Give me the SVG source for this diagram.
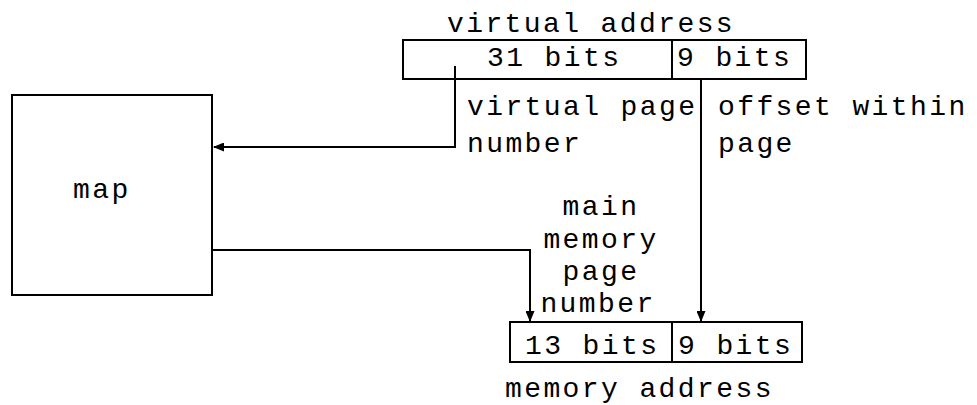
<svg xmlns="http://www.w3.org/2000/svg" width="977" height="405" viewBox="0 0 977 405">
<style>
text{font-family:"Liberation Mono","Courier New",monospace;font-size:28px;letter-spacing:2.4px;fill:#000}
.b{fill:none;stroke:#000;stroke-width:2}
.c{fill:none;stroke:#000;stroke-width:2}
</style>
<defs>
<marker id="ah" markerWidth="11" markerHeight="9" refX="10" refY="4.5" orient="auto" markerUnits="userSpaceOnUse">
<path d="M0,0 L11,4.5 L0,9 Z" fill="#000"/>
</marker>
</defs>
<rect width="977" height="405" fill="#fff"/>
<g id="virtual-address">
<text x="447" y="32">virtual address</text>
<rect class="b" x="403" y="40" width="403" height="39"/>
<line class="b" x1="672" y1="40" x2="672" y2="79"/>
<text x="487" y="66">31 bits</text>
<text x="677" y="66">9 bits</text>
</g>
<g id="map">
<rect class="b" x="12" y="95" width="200" height="200"/>
<text x="73" y="198">map</text>
</g>
<g id="memory-address">
<rect class="b" x="510" y="322" width="292" height="40"/>
<line class="b" x1="672" y1="322" x2="672" y2="362"/>
<text x="525" y="354">13 bits</text>
<text x="678" y="354">9 bits</text>
<text x="505" y="397">memory address</text>
</g>
<g id="labels">
<text x="467" y="115">virtual page</text>
<text x="467" y="152">number</text>
<text x="718" y="115">offset within</text>
<text x="718" y="152">page</text>
<text x="601" y="215" text-anchor="middle">main</text>
<text x="601" y="248" text-anchor="middle">memory</text>
<text x="601" y="280" text-anchor="middle">page</text>
<text x="598" y="312" text-anchor="middle">number</text>
</g>
<g id="connectors">
<path class="c" d="M455,66 L455,147 L214,147" marker-end="url(#ah)"/>
<path class="c" d="M212,250 L530,250 L530,321" marker-end="url(#ah)"/>
<path class="c" d="M701,79 L701,321" marker-end="url(#ah)"/>
</g>
</svg>
